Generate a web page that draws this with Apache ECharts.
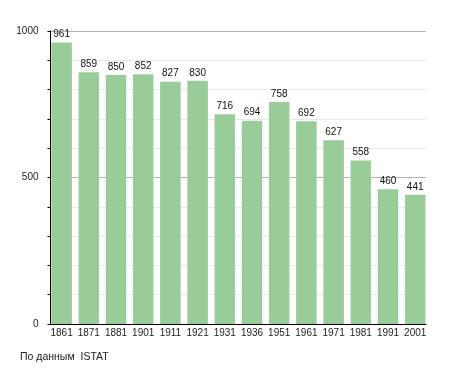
<!DOCTYPE html>
<html><head><meta charset="utf-8">
<script src="https://cdn.jsdelivr.net/npm/echarts@6/dist/echarts.min.js"></script>
<style>html,body{margin:0;padding:0;background:#fff}#c{width:455px;height:373px}</style>
</head><body><div id="c"></div>
<script>
const years = ['1861','1871','1881','1901','1911','1921','1931','1936','1951','1961','1971','1981','1991','2001'];
const population = [961,859,850,852,827,830,716,694,758,692,627,558,460,441];
const yLabels = [0,500,1000];
const sourceText = 'По данным  ISTAT';

const FONT = 'Liberation Sans, Arial, sans-serif';
const chart = echarts.init(document.getElementById('c'), null, {renderer:'canvas'});
const gridColors = [];
for (let v=0; v<=1000; v+=100) gridColors.push(yLabels.includes(v) ? '#b4b4b4' : '#e8e8e8');
chart.setOption({
  animation:false,
  textStyle:{fontFamily:FONT},
  grid:[
    {left:50.5,right:29,top:31,bottom:49,containLabel:false},
    {left:48,right:26.2,top:31,bottom:49,containLabel:false}
  ],
  graphic:[{type:'text',left:20,top:352,style:{text:sourceText,fontSize:10.5,fill:'#222',fontFamily:FONT}}],
  xAxis:[
    {type:'category',gridIndex:0,data:years,
      axisLine:{lineStyle:{color:'#000',width:1}},
      axisTick:{show:false},axisLabel:{show:false},splitLine:{show:false}},
    {type:'category',gridIndex:1,data:years,
      axisLine:{show:false},axisTick:{show:false},
      axisLabel:{color:'#222',fontSize:10,margin:4,interval:0,fontFamily:FONT}}
  ],
  yAxis:[
    {type:'value',gridIndex:0,min:0,max:1000,interval:100,
      axisLine:{show:true,lineStyle:{color:'#000'}},
      axisTick:{show:true,length:3,inside:false,lineStyle:{color:'#000'}},
      axisLabel:{color:'#222',fontSize:10,margin:12,fontFamily:FONT,formatter:v=>yLabels.includes(v)?String(v):''},
      splitLine:{show:true,lineStyle:{color:gridColors,width:1}}},
    {type:'value',gridIndex:1,min:0,max:1000,show:false,splitLine:{show:false}}
  ],
  series:[{type:'bar',xAxisIndex:1,yAxisIndex:1,data:population,barWidth:20.5,
    itemStyle:{color:'#99cc99'},
    label:{show:true,position:'top',distance:3,color:'#111',fontSize:10,fontFamily:FONT}}]
});
</script></body></html>
